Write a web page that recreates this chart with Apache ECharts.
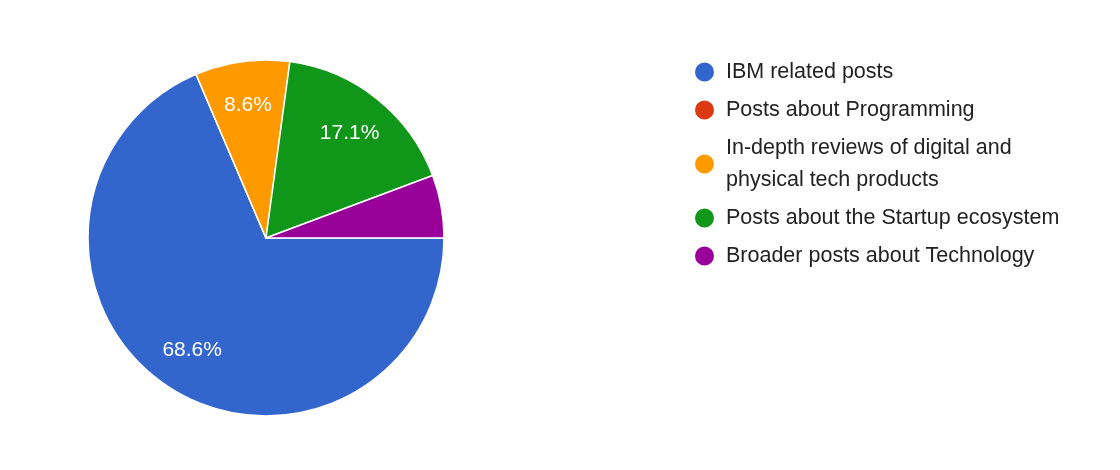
<!DOCTYPE html>
<html><head><meta charset="utf-8">
<script src="https://cdn.jsdelivr.net/npm/echarts@6/dist/echarts.min.js"></script>
<style>html,body{margin:0;background:#fff}#c{width:1120px;height:470px}</style>
</head><body><div id="c"></div>
<script>
const categories = ["IBM related posts","Posts about Programming","In-depth reviews of digital and physical tech products","Posts about the Startup ecosystem","Broader posts about Technology"];
const values = [24, 0, 3, 6, 2];
const colors = ["#3366cc","#dc3912","#ff9900","#109618","#990099"];
const total = values.reduce((a,b)=>a+b,0);
const data = categories.map((n,i)=>({name:n,value:values[i],itemStyle:{color:colors[i]}}));
const chart = echarts.init(document.getElementById('c'));
chart.setOption({
  animation:false,
  legend:{orient:'vertical',left:688,top:51,itemWidth:21,itemHeight:21,icon:'circle',itemGap:6,
    textStyle:{fontFamily:'Liberation Sans',fontSize:21.5,lineHeight:32,color:'#222',padding:[0,0,0,6]},
    formatter:n=>n.startsWith('In-depth')?'In-depth reviews of digital and\nphysical tech products':n,
    data:categories},
  series:[
    {type:'pie',center:[266,238],radius:178,startAngle:0,clockwise:true,silent:true,
     itemStyle:{borderColor:'#fff',borderWidth:1.5},label:{show:false},labelLine:{show:false},data:data},
    {type:'pie',center:[266,238],radius:262,startAngle:0,clockwise:true,silent:true,legendHoverLink:false,
     itemStyle:{color:'rgba(0,0,0,0)'},labelLine:{show:false},
     label:{show:true,position:'inside',color:'#fff',fontSize:21,fontFamily:'Liberation Sans',
       formatter:p=>{const pct=p.value/total*100;return pct>=8?pct.toFixed(1)+'%':'';}},
     data:categories.map((n,i)=>({name:n+' ',value:values[i]}))}
  ]
});
</script></body></html>
